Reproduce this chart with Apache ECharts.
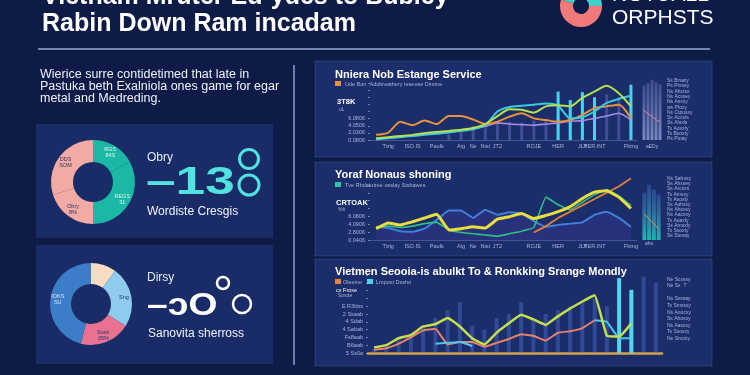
<!DOCTYPE html>
<html>
<head>
<meta charset="utf-8">
<title>Vietnam dashboard</title>
<script src="https://cdn.jsdelivr.net/npm/echarts@6/dist/echarts.min.js"></script>
<style>
    html, body { margin: 0; padding: 0; background: #0f1b47; }
    #main { width: 750px; height: 375px; }
</style>
</head>
<body>
<div id="main"></div>
<script>
// categories / tick labels
var months = ['_0', 'Tizig', '_2', 'ISO.IS', '_4', 'Paulk', '_6', 'Aig', 'Ne', 'Nist', 'JT2', '_11',
    '_12', 'ROJE', '_14', 'HER', '_16', 'JLT', 'HER.INT', '_19', '_20', 'Fbtng'];
var weeks = ['w1', 'w2', 'w3', 'w4', 'w5', 'w6', 'w7', 'w8', 'w9', 'w10', 'w11', 'w12',
    'w13', 'w14', 'w15', 'w16', 'w17', 'w18', 'w19', 'w20', 'w21', 'w22', 'w23', 'w24'];
var miniCats = ['a', 'b', 'c', 'd', 'e'];
var yTicksA = ['0.0806', '2.0306', '4.0506', '6.0806', '', '', '', '', ''];
var yTicksB = ['0.0406', '2.8006', '4.0906', '6.0806', '', '', '', '', ''];
var yTicksC = ['5 Ss0a', 'B6aab', 'Fs8aab', '4 Sabab', '4 Sdab', '2 Ssaab', 'E R3bbs', '', '', '', ''];

// panel A: "Nniera Nob Estange Service"
var orangeA = [9, 13, 32, 26, 34, 28, 42, 42, 36, 28, 32, 41, 47, 38, 35, 32, 35, 44, 56, 59, 62, 38];
var limeA = [3, 5, 7, 9, 12, 14, 16, 18, 21, 28, 42, 54, 53, 48, 59, 61, 59, 74, 85, 95, 82, 59];
var cyanA = [1, 3, 5, 7, 9, 11, 13, 16, 19, 26, 50, 58, 60, 62, 64, 60, 38, 40, 50, 65, 72, 78];
var purpleA = [2, 4, 6, 8, 10, 12, 14, 17, 20, 24, 30, 28, 27, 26, 28, 30, 33, 34, 38, 42, 47, 35];
var dimA = [null, null, null, null, null, null, 10, 18, 25, 28, 30, 32, 30, 34, 36, 45, 55, 60, 70, 80, 75, 70];
var brightA = [null, null, null, null, null, null, null, null, null, null, null, null, null, null, null, 85, 70, 84, 75, null, null, 97];
var miniA = [88, 92, 97, 94, 90];
var miniLineA = [48, 42, 38, 33, 29];

// panel B: "Yoraf Nonaus shoning"
var yellowB = [18, 27, 24, 29, 35, 41, 16, 18, 21, 19, 33, 37, 42, 34, 39, 45, 53, 66, 76, 78, 68, 50];
var blueB = [21, 19, 14, 13, 18, 32, 47, 47, 35, 48, 40, 44, 42, 30, 21, 24, 26, 28, 40, 45, 35, 21];
var tealB = [20, 22, 20, 22, 26, 28, 16, 12, 10, 8, 6, 10, 14, 20, 68, 56, 48, 60, 72, 80, 70, 55];
var orangeB = [null, null, null, null, null, null, null, null, null, null, null, null, null, 12, 22, 35, 45, 55, 65, 75, 85, 98];
var miniB = [79, 92, 84, 76];
var miniLineB = [43, 35, 27, 19];

// panel C: "Vietmen Seooia-is abulkt To & Ronkking Srange Mondly"
var limeC = [7, 10, 19, 23, 34, 37, 45, 34, 19, 11, 26, 38, 49, 43, 36, 47, 57, 66, 74, 22, 21, 38, null, null];
var salmonC = [4, 6, 12, 20, 29, 31, 11, 14, 14, 8, 13, 18, 24, 22, 16, 26, 28, 32, 42, null, null, null, null, null];
var cyanC = [null, null, null, null, null, 12, 13, 14, 9, null, null, null, null, null, null, null, null, null, 42, 40, 19, 19, null, null];
var dimC = [5, 10, 20, 25, 35, 45, 55, 65, 35, 30, 45, 50, 65, 45, 50, 55, 60, 65, 70, 60, 75, 80, 98, 90];
var brightC = [null, null, null, null, null, null, null, null, null, null, null, null, null, null, null, null, null, null, null, null, 96, 81, null, null];

// donuts
var pie1Names = ['RGS\n84S', 'REGS\n31', 'Obry\n8%', 'DDS\nSOM'];
var pie1Values = [17, 33, 20, 30];
var pie2Names = ['', 'Sng', 'Sosh\n35%', 'IOKS\nSU'];
var pie2Values = [10, 24, 20, 46];

var listA = ['Ss Brsary', 'Ps Ptxsey', 'Ns Ahctsx', 'Ns Acsxey', 'Ns Asxxy', 'ws Pfoxy', 'Ns Ctpusxy', 'Ss Acxsls', 'Ss Alsxls', 'Ts Aosxfy', 'Ts Bsoxty', 'Ps Ptoay'];
var listB = ['Ns Sahssy', 'Ss Ahxsey', 'Ss Arcsxs', 'Ts Amsxy', 'Ts Asoxly', 'Ss Aohsxy', 'Ns Ahsxsy', 'Ns Aacsxy', 'Ts Aoaxly', 'Ss Amsxfy', 'Ts Ssoxty', 'Ss Stexay'];
var listC = ['Ne Scxssy', 'Ne Sx  T', '', 'Ns Sxssay', 'Ts Smssxy', 'Ns Anocxy', 'Ss Ahoxsy', 'Ns Aassxy', 'Ts Sxosxy', 'Ne Smoxy'];

var FONT = '"Liberation Sans", Arial, sans-serif';
var LBL = '#a7b4de';

var chart = echarts.init(document.getElementById('main'));

function text(x, y, s, font, fill, extra) {
    var el = {
        type: 'text', x: x, y: y, z: 20,
        style: { text: s, font: font, fill: fill, textVerticalAlign: 'middle' }
    };
    if (extra) {
        for (var k in extra) el[k] = extra[k];
    }
    return el;
}
function rect(x, y, w, h, fill, stroke) {
    return {
        type: 'rect', z: 0,
        shape: { x: x, y: y, width: w, height: h },
        style: { fill: fill, stroke: stroke || null, lineWidth: 1 }
    };
}
function ring(cx, cy, r, color, lw) {
    return {
        type: 'circle', z: 20,
        shape: { cx: cx, cy: cy, r: r },
        style: { fill: 'none', stroke: color, lineWidth: lw }
    };
}

var graphics = [
    // panels
    rect(36, 124, 237, 114, '#1a2c67'),
    rect(36, 245, 237, 119, '#1a2c67'),
    rect(315, 61, 397, 96, '#1b2d6a', 'rgba(90,120,200,0.3)'),
    rect(315, 162, 397, 94, '#1b2d6a', 'rgba(90,120,200,0.3)'),
    rect(315, 259, 397, 107, '#1b2d6a', 'rgba(90,120,200,0.3)'),
    // rules
    { type: 'line', z: 5, shape: { x1: 38, y1: 49, x2: 710, y2: 49 }, style: { stroke: '#9aa9d6', lineWidth: 1.5 } },
    { type: 'line', z: 5, shape: { x1: 294, y1: 65, x2: 294, y2: 365 }, style: { stroke: '#8e9fd4', lineWidth: 1.5 } },
    // title
    text(42, -3, 'Vietnam Mruter Ed-ydes to Bubley', 'bold 25px ' + FONT, '#ffffff'),
    text(42, 24, 'Rabin Down Ram incadam', 'bold 25px ' + FONT, '#ffffff'),
    // logo
    { type: 'sector', z: 10, shape: { cx: 581, cy: 6, r: 21, r0: 8, startAngle: 0, endAngle: Math.PI * 1.1, clockwise: true }, style: { fill: '#f07a7a' } },
    { type: 'sector', z: 10, shape: { cx: 581, cy: 6, r: 21, r0: 8, startAngle: Math.PI * 1.1, endAngle: Math.PI * 2, clockwise: true }, style: { fill: '#3fd0c8' } },
    text(612, -5, 'NOTUALL', '21px ' + FONT, '#ffffff'),
    text(612, 18, 'ORPHSTS', '21px ' + FONT, '#ffffff'),
    // intro paragraph
    {
        type: 'text', x: 40, y: 69, z: 20,
        style: {
            text: 'Wierice surre contidetimed that late in\nPastuka beth Exalniola ones game for egar\nmetal and Medreding.',
            font: '12.5px ' + FONT, fill: '#eef1fb', lineHeight: 12
        }
    },
    // kpi 1
    text(147, 158, 'Obry', '12px ' + FONT, '#e8ecf8'),
    text(146, 184, '\u201313', 'bold 38px ' + FONT, '#52e3e0', { scaleX: 1.4 }),
    ring(249, 159, 9.5, '#52e3e0', 3),
    ring(249, 185, 10, '#52e3e0', 3),
    text(147, 212, 'Wordiste Cresgis', '12px ' + FONT, '#eef1fb'),
    // kpi 2
    text(147, 278, 'Dirsy', '12px ' + FONT, '#e8ecf8'),
    text(147, 306, '\u2013\u0254O', 'bold 31px ' + FONT, '#ffffff', { scaleX: 1.2 }),
    ring(223, 283, 6, '#ffffff', 2.5),
    ring(242, 304, 9, '#ffffff', 2.5),
    text(148, 334, 'Sanovita sherross', '12px ' + FONT, '#eef1fb'),
    // panel A texts
    text(335, 75, 'Nniera Nob Estange Service', 'bold 11px ' + FONT, '#ffffff'),
    rect(335, 81, 6, 5, '#e8923a'),
    text(345, 84, 'Ude Bon  Adobreathery Ieseuse Dimme', '5.5px ' + FONT, LBL),
    text(337, 102, '3T8K', 'bold 7.5px ' + FONT, '#ffffff'),
    text(339, 110, 'uL', '5px ' + FONT, LBL),
    // panel B texts
    text(335, 175, 'Yoraf Nonaus shoning', 'bold 11px ' + FONT, '#ffffff'),
    rect(335, 182, 6, 5, '#2fc3a8'),
    text(345, 185, 'Tve Rbdatutree osslay Stsbawes', '5.5px ' + FONT, LBL),
    text(336, 203, 'CRTOAK', 'bold 7.5px ' + FONT, '#ffffff'),
    text(338, 210, '%b', '5px ' + FONT, LBL),
    // panel C texts
    text(335, 272, 'Vietmen Seooia-is abulkt To & Ronkking Srange Mondly', 'bold 11px ' + FONT, '#ffffff'),
    rect(335, 279, 6, 5, '#e8843a'),
    text(343, 282, 'Oleeine', '5.5px ' + FONT, LBL),
    rect(367, 279, 6, 5, '#4fd4ee'),
    text(376, 282, 'Lmpoxt Dssho', '5.5px ' + FONT, LBL),
    text(336, 290, 'cx Froxe', '5.5px ' + FONT, '#ffffff'),
    text(338, 296, 'Sosde', '5px ' + FONT, LBL),
    // right-hand lists
    { type: 'text', x: 667, y: 78, z: 20, style: { text: listA.join('\n'), font: '5px ' + FONT, fill: LBL, lineHeight: 5.3 } },
    { type: 'text', x: 667, y: 176, z: 20, style: { text: listB.join('\n'), font: '5px ' + FONT, fill: LBL, lineHeight: 5.2 } },
    { type: 'text', x: 667, y: 276, z: 20, style: { text: listC.join('\n'), font: '5px ' + FONT, fill: LBL, lineHeight: 6.6 } },
    text(646, 147, 'aEDy', '5px ' + FONT, LBL),
    text(645, 244, 'ahe', '5px ' + FONT, LBL)
];

function catAxis(grid, data, extra) {
    var ax = {
        type: 'category', gridIndex: grid, data: data, boundaryGap: true,
        axisLine: { lineStyle: { color: 'rgba(140,160,230,0.35)' } },
        axisTick: { show: false },
        axisLabel: {
            fontSize: 5.5, color: LBL, margin: 3,
            interval: function (i, v) { return v.charAt(0) !== '_'; }
        },
        splitLine: { show: false }
    };
    if (extra) {
        for (var k in extra) ax[k] = extra[k];
    }
    return ax;
}
function valAxis(grid, ticks, interval) {
    return {
        type: 'value', gridIndex: grid, min: 0, max: 100, interval: interval,
        splitLine: { show: false },
        axisLine: { show: false },
        axisTick: { show: true, length: 2, lineStyle: { color: 'rgba(170,185,230,0.6)' } },
        axisLabel: {
            fontSize: 5.5, color: LBL, margin: 5,
            formatter: function (v) { return ticks[Math.round(v / interval)] || ''; }
        }
    };
}
function hiddenVal(grid) {
    return { type: 'value', gridIndex: grid, min: 0, max: 100, show: false, splitLine: { show: false } };
}
function lineS(x, data, color, width, extra) {
    var s = {
        type: 'line', xAxisIndex: x, yAxisIndex: x, data: data,
        symbol: 'none', smooth: 0.25, connectNulls: false,
        lineStyle: { color: color, width: width }, itemStyle: { color: color },
        z: 5
    };
    if (extra) {
        for (var k in extra) s[k] = extra[k];
    }
    return s;
}
function barS(x, data, color, width, extra) {
    var s = {
        type: 'bar', xAxisIndex: x, yAxisIndex: x, data: data,
        barWidth: width, barGap: '-100%', itemStyle: { color: color }, z: 3
    };
    if (extra) {
        for (var k in extra) s[k] = extra[k];
    }
    return s;
}

var pie1Colors = ['#1bb8a6', '#1bb8a6', '#f2aaa5', '#f2aaa5'];
var pie1LabelColors = ['#d9f6f1', '#d9f6f1', '#2a3768', '#2a3768'];
var pie2Colors = ['#f6dcc2', '#8fcbec', '#e8728f', '#3c7dc8'];
var pie2LabelColors = ['#2a3768', '#1d3566', '#2a3768', '#dbe6fa'];

var option = {
    backgroundColor: '#0f1b47',
    animation: false,
    textStyle: { fontFamily: FONT },
    graphic: { elements: graphics },
    grid: [
        { left: 370, top: 83, width: 267, height: 57 },
        { left: 370, top: 177, width: 267, height: 63 },
        { left: 368, top: 275, width: 294, height: 78 },
        { left: 642, top: 78, width: 20, height: 62 },
        { left: 642, top: 180, width: 19, height: 60 }
    ],
    xAxis: [
        catAxis(0, months),
        catAxis(1, months),
        catAxis(2, weeks, { axisLine: { lineStyle: { color: '#d6a446', width: 2.5 } }, axisLabel: { show: false } }),
        { type: 'category', gridIndex: 3, data: miniCats, show: false },
        { type: 'category', gridIndex: 4, data: miniCats.slice(0, 4), show: false }
    ],
    yAxis: [
        valAxis(0, yTicksA, 12.5),
        valAxis(1, yTicksB, 12.5),
        valAxis(2, yTicksC, 10),
        hiddenVal(3),
        hiddenVal(4)
    ],
    series: [
        // panel A
        barS(0, dimA, 'rgba(125,135,225,0.38)', 3),
        barS(0, brightA, '#45d4ee', 3),
        lineS(0, purpleA, '#a68be6', 1.6),
        lineS(0, orangeA, '#e8923a', 2),
        lineS(0, cyanA, '#3fc6e0', 2),
        lineS(0, limeA, '#b6e04c', 2),
        // panel B
        lineS(1, blueB, '#3f80da', 2, { smooth: 0.1, areaStyle: { color: 'rgba(62,58,150,0.55)' } }),
        lineS(1, tealB, '#2fbf86', 1.6, { smooth: 0.1 }),
        lineS(1, orangeB, '#de7e3a', 1.8, { smooth: 0.1 }),
        lineS(1, yellowB, '#e8df3e', 3, { smooth: 0.1 }),
        // panel C
        barS(2, dimC, 'rgba(80,115,210,0.42)', 4),
        barS(2, brightC, '#4fd8f0', 4),
        lineS(2, salmonC, '#e8806a', 2, { smooth: 0.1 }),
        lineS(2, cyanC, '#4cc8ea', 2, { smooth: 0.1 }),
        lineS(2, limeC, '#c5e04a', 2.5, { smooth: 0.1 }),
        // mini charts
        barS(3, miniA, new echarts.graphic.LinearGradient(0, 0, 0, 1, [
            { offset: 0, color: 'rgba(170,180,250,0.25)' },
            { offset: 1, color: 'rgba(190,200,255,0.6)' }
        ]), 3),
        lineS(3, miniLineA, '#e8828a', 1, { smooth: 0 }),
        barS(4, miniB, new echarts.graphic.LinearGradient(0, 0, 0, 1, [
            { offset: 0, color: 'rgba(70,130,210,0.35)' },
            { offset: 1, color: 'rgba(45,200,185,0.85)' }
        ]), 4),
        lineS(4, miniLineB, '#e8944a', 1, { smooth: 0 }),
        // donuts
        {
            type: 'pie', center: [93, 182], radius: [20, 42], startAngle: 90, clockwise: true,
            silent: true, z: 6,
            label: { position: 'inside', fontSize: 5.5, lineHeight: 6 },
            labelLine: { show: false },
            data: pie1Values.map(function (v, i) {
                return { value: v, name: pie1Names[i], itemStyle: { color: pie1Colors[i] }, label: { color: pie1LabelColors[i] } };
            })
        },
        {
            type: 'pie', center: [91, 304], radius: [20, 41], startAngle: 90, clockwise: true,
            silent: true, z: 6,
            label: { position: 'inside', fontSize: 5.5, lineHeight: 6 },
            labelLine: { show: false },
            data: pie2Values.map(function (v, i) {
                return { value: v, name: pie2Names[i], itemStyle: { color: pie2Colors[i] }, label: { color: pie2LabelColors[i] } };
            })
        }
    ]
};

chart.setOption(option);
</script>
</body>
</html>
